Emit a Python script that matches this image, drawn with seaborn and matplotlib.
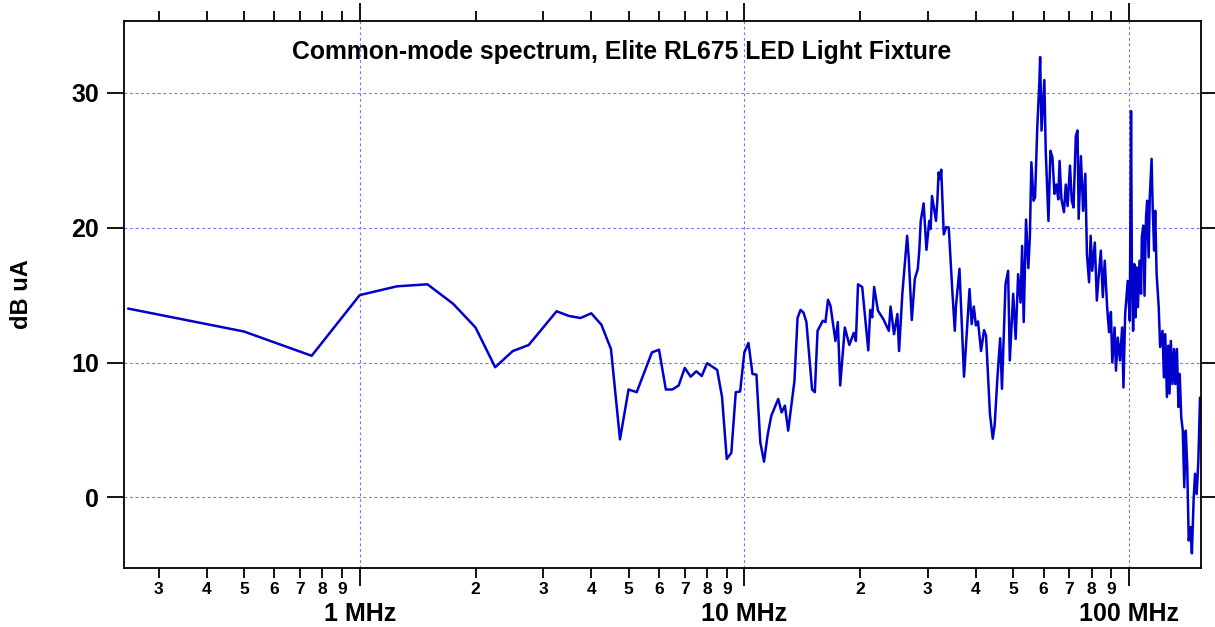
import numpy as np
import pandas as pd
import seaborn as sns
import matplotlib.pyplot as plt
from matplotlib.ticker import FixedLocator, FixedFormatter

# Spectrum (frequency in MHz, level in dB uA)
freq_mhz = [
    0.25, 0.50, 0.75, 1.00, 1.25, 1.50, 1.75, 2.00, 2.25, 2.50, 2.75, 3.25, 3.50, 3.75,
    4.00, 4.25, 4.50, 4.75, 5.00, 5.25, 5.75, 6.00, 6.25, 6.50, 6.75, 7.00, 7.25, 7.50,
    7.75, 8.00, 8.25, 8.50, 8.75, 9.00, 9.25, 9.50, 9.75, 10.0, 10.25, 10.5, 10.75, 11.0,
    11.25, 11.5, 11.75, 12.25, 12.5, 12.75, 13.0, 13.5, 13.75, 14.0, 14.25, 14.5, 15.0,
    15.25, 15.5, 16.0, 16.25, 16.5, 16.75, 17.25, 17.5, 17.75, 18.25, 18.75, 19.25, 19.5,
    19.75, 20.25, 21.0, 21.25, 21.5, 21.75, 22.25, 23.0, 23.75, 24.0, 24.5, 25.0, 25.25,
    25.75, 26.5, 26.75, 27.25, 27.75, 28.25, 28.5, 28.75, 29.25, 29.75, 30.25, 30.5, 30.75,
    31.5, 31.75, 32.0, 32.25, 32.5, 33.0, 33.5, 34.0, 34.75, 35.25, 35.5, 36.25, 36.5,
    37.25, 38.5, 39.0, 39.5, 40.0, 40.5, 41.25, 42.0, 42.5, 43.5, 44.25, 44.75, 45.5,
    46.25, 46.75, 47.75, 48.5, 49.0, 50.0, 50.75, 51.5, 52.25, 52.75, 53.25, 54.0, 54.75,
    55.25, 55.75, 56.5, 57.0, 57.75, 58.5, 58.75, 59.25, 60.25, 60.75, 61.75, 62.5, 63.25,
    64.0, 64.75, 65.5, 66.0, 66.75, 67.75, 68.5, 69.25, 70.25, 71.0, 71.75, 72.75, 73.5,
    74.0, 75.0, 76.0, 77.0, 77.75, 78.75, 79.5, 80.25, 81.5, 82.5, 83.5, 84.5, 85.5, 86.5,
    87.75, 88.75, 89.75, 90.5, 91.75, 92.5, 93.5, 94.75, 96.0, 96.75, 97.75, 99.25, 100.5,
    101.25, 101.75, 102.5, 103.25, 104.0, 104.75, 105.5, 106.5, 107.5, 108.0, 109.0,
    109.75, 110.75, 111.5, 112.5, 113.25, 114.5, 115.25, 116.25, 117.0, 118.0, 119.5,
    120.5, 122.25, 123.25, 124.25, 125.5, 126.5, 127.5, 128.5, 129.75, 131.0, 132.0,
    133.25, 134.5, 135.5, 136.75, 138.0, 139.25, 140.5, 141.75, 143.0, 144.5, 145.75,
    147.25, 148.5, 150.0, 151.5, 153.0,
]
level_db = [
    14.0, 12.3, 10.5, 15.0, 15.65, 15.8, 14.35, 12.6, 9.65, 10.85, 11.3, 13.8, 13.45, 13.3,
    13.65, 12.8, 11.0, 4.3, 8.0, 7.8, 10.75, 10.95, 8.0, 8.0, 8.3, 9.6, 8.95, 9.35,
    9.0, 9.95, 9.7, 9.45, 7.45, 2.85, 3.3, 7.8, 7.85, 10.75, 11.45, 9.15, 9.1, 4.1,
    2.65, 4.65, 6.05, 7.3, 6.3, 6.8, 4.95, 8.65, 13.3, 13.9, 13.7, 13.0, 8.0,
    7.8, 12.35, 13.1, 13.0, 14.65, 14.2, 11.6, 13.0, 8.3, 12.6, 11.3, 12.2, 11.6,
    15.8, 15.6, 10.9, 13.9, 13.35, 15.6, 13.85, 13.2, 12.35, 14.15, 12.1, 13.6, 10.85,
    15.1, 19.4, 17.8, 13.15, 16.2, 16.95, 18.3, 20.5, 21.8, 18.35, 20.5, 19.9, 22.35,
    20.5, 22.0, 24.1, 23.6, 24.3, 19.5, 20.05, 20.0, 15.2, 12.35, 14.2, 16.95, 14.95,
    8.95, 15.45, 12.85, 14.15, 12.75, 13.05, 10.85, 12.4, 12.0, 6.2, 4.35, 5.35, 8.9,
    11.8, 8.05, 15.8, 16.8, 10.15, 15.1, 11.75, 16.55, 14.45, 18.65, 13.0, 20.6, 17.0,
    19.3, 24.85, 22.0, 22.25, 27.4, 30.9, 32.65, 27.2, 30.95, 25.7, 20.5, 25.7, 25.2,
    22.5, 23.2, 22.1, 24.95, 22.1, 21.15, 23.2, 21.6, 24.6, 22.0, 21.5, 26.8, 27.2,
    20.65, 25.3, 21.25, 24.0, 18.05, 15.95, 19.4, 16.8, 18.9, 14.6, 16.55, 18.3, 14.85, 17.55,
    14.1, 12.25, 13.75, 10.0, 12.6, 9.4, 11.85, 10.15, 12.6, 8.15, 13.6, 16.05, 13.1,
    28.65, 17.3, 12.35, 17.3, 13.35, 17.05, 14.1, 17.55, 15.1, 19.3, 20.15,
    14.95, 20.75, 22.0, 17.8, 22.25, 25.1, 21.5, 18.3, 21.25, 16.55, 14.1,
    11.15, 12.35, 8.9, 12.1, 7.45, 11.25, 7.7, 11.6, 8.4, 11.0, 8.4,
    11.0, 6.7, 9.15, 5.95, 4.95, 0.75, 4.95, 2.25, -3.2, -2.2, -4.15,
    -0.2, 1.75, 0.25, 2.75, 7.4,
]

major_ticks = [1, 10, 100]
major_labels = ["1 MHz", "10 MHz", "100 MHz"]
minor_ticks = [m * d for d in (0.1, 1, 10) for m in range(2, 10) if m * d > 0.25]
minor_labels = [str(round(t / (10 ** np.floor(np.log10(t))))) for t in minor_ticks]

df = pd.DataFrame({"freq": freq_mhz, "level": level_db})

sns.set_theme(style="ticks")
plt.rcParams["font.family"] = ["Liberation Sans", "DejaVu Sans"]
plt.rcParams["font.weight"] = "bold"
plt.rcParams["text.color"] = "black"

fig = plt.figure(figsize=(12.15, 6.27), dpi=100)
ax = fig.add_axes([0.1023, 0.0936, 0.8859, 0.8724])

sns.lineplot(data=df, x="freq", y="level", ax=ax, color="#0000cc",
             linewidth=1.8, sort=False, estimator=None)

ax.set_xscale("log")
ax.set_xlim(0.2443, 153.6)
ax.set_ylim(-5.26, 35.3)

ax.xaxis.set_major_locator(FixedLocator(major_ticks))
ax.xaxis.set_major_formatter(FixedFormatter(major_labels))
ax.xaxis.set_minor_locator(FixedLocator(minor_ticks))
ax.xaxis.set_minor_formatter(FixedFormatter(minor_labels))
ax.set_yticks([0, 10, 20, 30])

for s in ax.spines.values():
    s.set_visible(True)
    s.set_color("black")
    s.set_linewidth(1.3)

ax.tick_params(axis="x", which="major", direction="out", length=13, width=1.3,
               top=True, bottom=True, labeltop=False, labelsize=18, pad=11, colors="black")
ax.tick_params(axis="x", which="minor", direction="out", length=7, width=1.3,
               top=True, bottom=True, labeltop=False, labelsize=12.5, pad=2.5, colors="black")
ax.tick_params(axis="y", which="major", direction="out", length=12, width=1.3,
               left=True, right=True, labelright=False, labelsize=18, pad=6, colors="black")
for lab in ax.get_xticklabels(which="both") + ax.get_yticklabels():
    lab.set_fontweight("bold")

ax.grid(True, which="major", color="#7373ff", linestyle=(0, (2.5, 2.5)), linewidth=0.8)
ax.grid(False, which="minor")

ax.set_xlabel("")
ax.set_ylabel("")
fig.text(0.0178, 0.531, "dB uA", rotation=90, ha="center", va="center",
         fontsize=17, fontweight="bold", color="black")
ax.text(0.4624, 0.944, "Common-mode spectrum, Elite RL675 LED Light Fixture",
        transform=ax.transAxes, ha="center", va="center", fontsize=17.8,
        fontweight="bold", color="black")

fig.savefig("out.png", dpi=100)
